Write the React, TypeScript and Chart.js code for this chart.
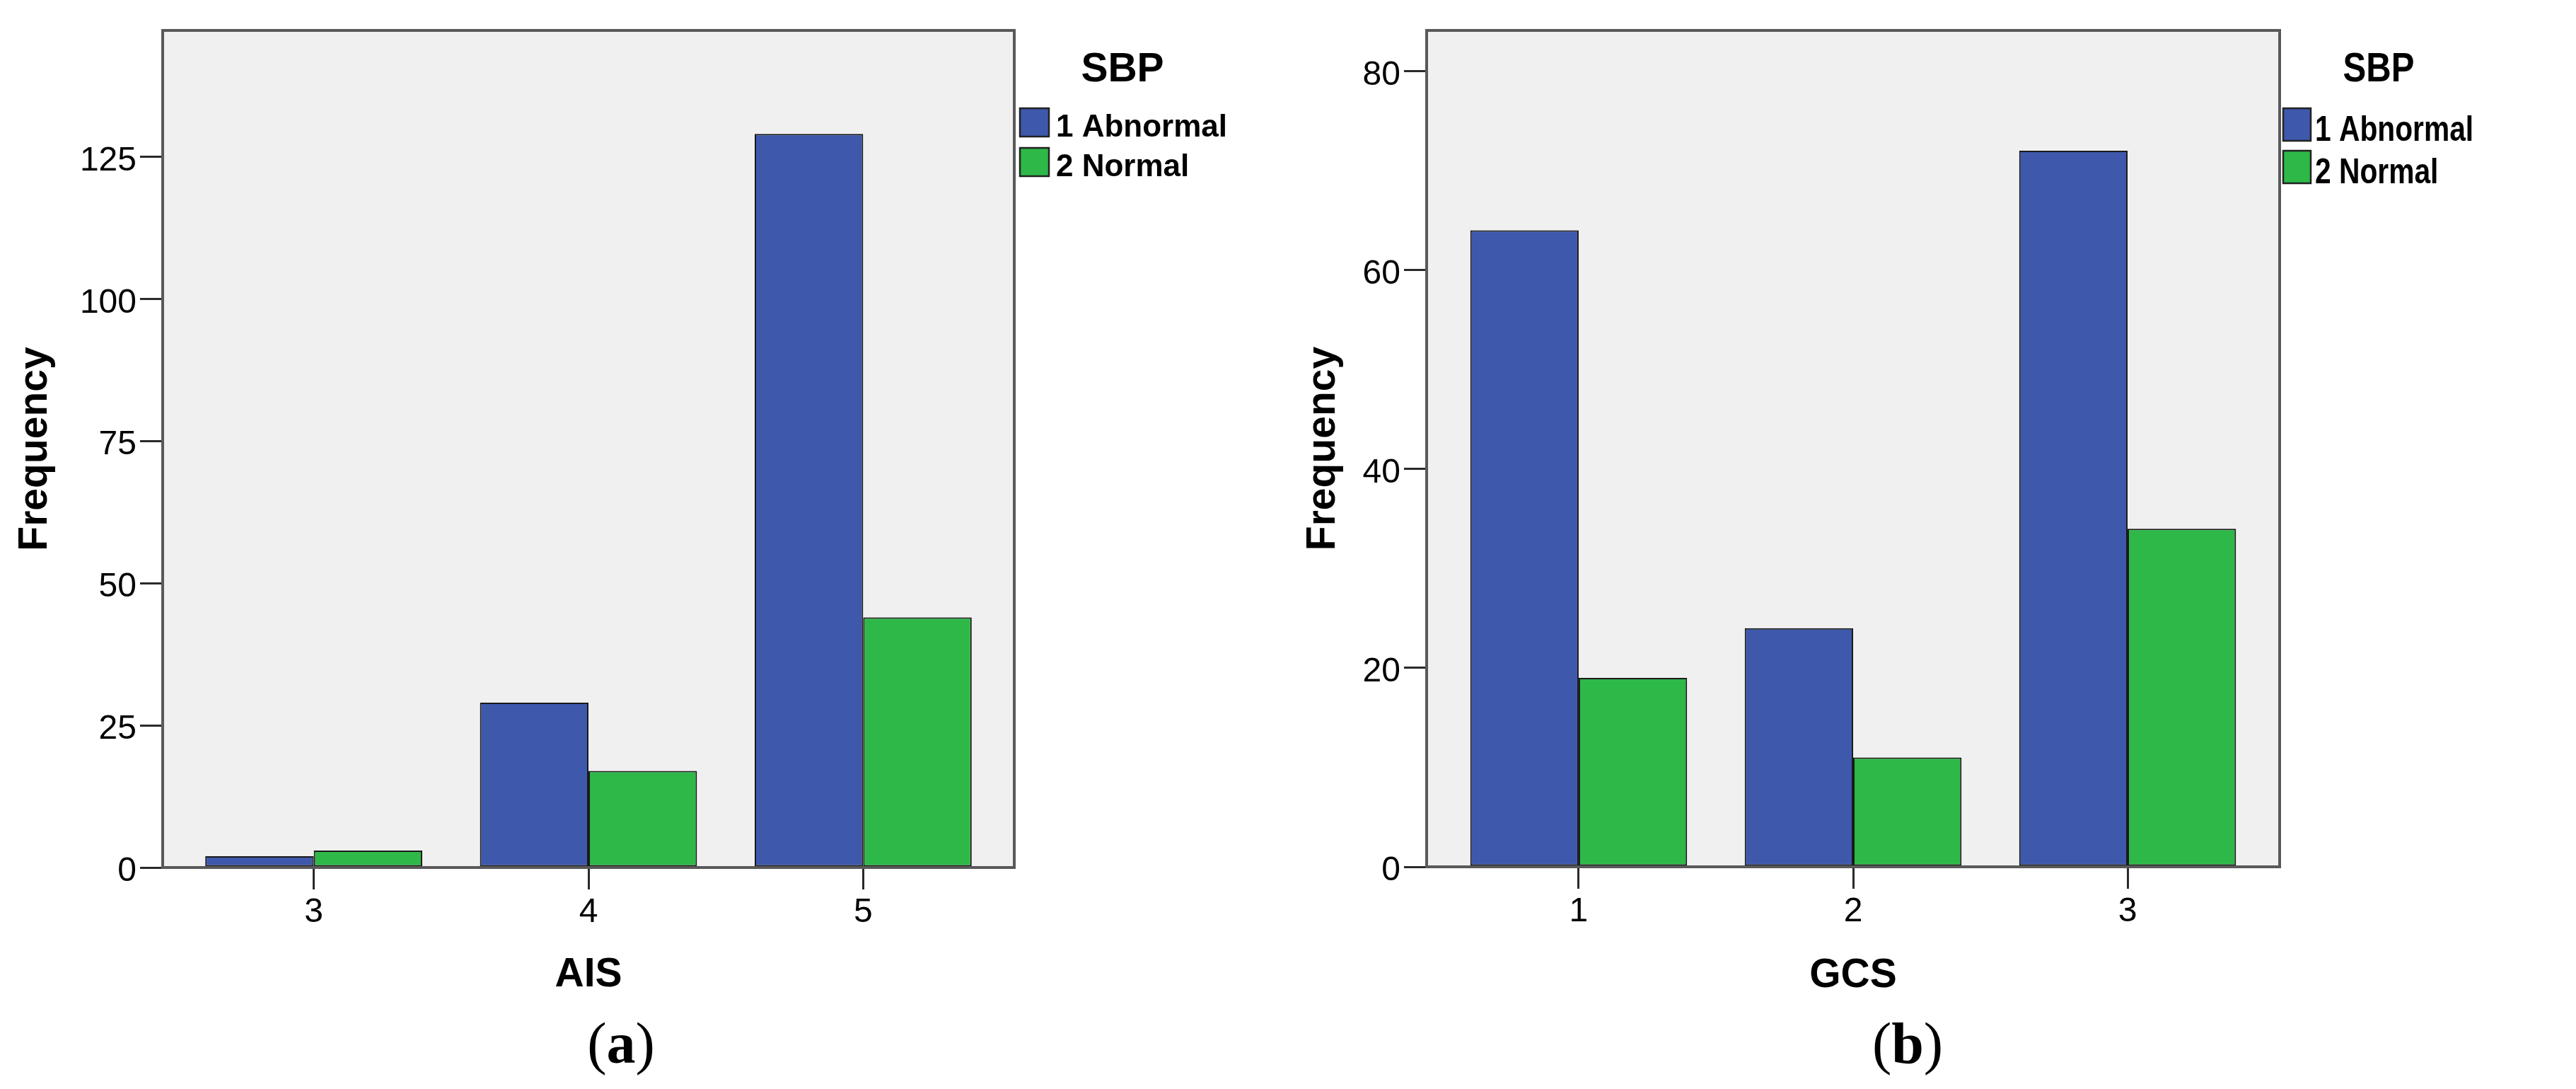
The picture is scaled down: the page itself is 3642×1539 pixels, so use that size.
import React, { useEffect, useRef } from 'react';
import { Chart, registerables } from 'chart.js';

Chart.register(...registerables);

// ---------- data ----------
const legendTitle = 'SBP';
const seriesLabels = ['1 Abnormal', '2 Normal'];
const yTitle = 'Frequency';

const aisTitle = 'AIS';
const aisCategories = [3, 4, 5];
const aisAbnormal = [2, 29, 129];
const aisNormal = [3, 17, 44];
const aisYTicks = [0, 25, 50, 75, 100, 125];

const gcsTitle = 'GCS';
const gcsCategories = [1, 2, 3];
const gcsAbnormal = [64, 24, 72];
const gcsNormal = [19, 11, 34];
const gcsYTicks = [0, 20, 40, 60, 80];

const captions = ['a', 'b'];

// ---------- style ----------
const BLUE = '#3e58ac';
const GREEN = '#2eb848';
const FONT = '"Liberation Sans", Arial, sans-serif';
const SERIF = '"Liberation Serif", "Times New Roman", serif';

const plotFramePlugin = {
  id: 'plotFrame',
  beforeDraw(chart: any) {
    const { ctx, chartArea: a } = chart;
    ctx.save();
    ctx.fillStyle = '#f0f0f0';
    ctx.fillRect(a.left, a.top, a.right - a.left, a.bottom - a.top);
    ctx.restore();
  },
  afterDatasetsDraw(chart: any) {
    const { ctx, chartArea: a } = chart;
    ctx.save();
    ctx.strokeStyle = '#595959';
    ctx.lineWidth = 4;
    ctx.strokeRect(a.left, a.top, a.right - a.left, a.bottom - a.top);
    ctx.restore();
  },
};

const sbpLegendPlugin = {
  id: 'sbpLegend',
  afterDraw(chart: any, _args: any, o: any) {
    const { ctx, chartArea } = chart;
    const x0 = chartArea.right;
    ctx.save();
    ctx.fillStyle = '#000';
    ctx.textBaseline = 'alphabetic';
    ctx.textAlign = 'center';
    ctx.font = `bold ${o.titleSize}px ${FONT}`;
    ctx.save();
    ctx.translate(x0 + o.titleDx, o.titleBaseline);
    ctx.scale(o.titleScaleX, 1);
    ctx.fillText(o.title, 0, 0);
    ctx.restore();
    chart.data.datasets.forEach((ds: any, i: number) => {
      const top = o.boxTop + i * o.rowStep;
      ctx.fillStyle = ds.backgroundColor;
      ctx.fillRect(x0 + o.boxDx, top, o.boxW, o.boxH);
      ctx.strokeStyle = '#222';
      ctx.lineWidth = 2.5;
      ctx.strokeRect(x0 + o.boxDx, top, o.boxW, o.boxH);
      ctx.fillStyle = '#000';
      ctx.textAlign = 'left';
      ctx.font = `bold ${o.labelSize}px ${FONT}`;
      ctx.save();
      ctx.translate(x0 + o.textDx, top + o.boxH);
      ctx.scale(o.labelScaleX, 1);
      ctx.fillText(ds.label, 0, 0);
      ctx.restore();
    });
    ctx.restore();
  },
};

interface PanelProps {
  left: number;
  width: number;
  height: number;
  categories: number[];
  abnormal: number[];
  normal: number[];
  yTicks: number[];
  yMax: number;
  xMin: number;
  xMax: number;
  xTitle: string;
  yAxisWidth: number;
  padRight: number;
  padTop: number;
  xAxisHeight: number;
  yTitlePad: number;
  xTitlePad: number;
  legend: any;
}

function Panel(p: PanelProps) {
  const ref = useRef<HTMLCanvasElement | null>(null);
  useEffect(() => {
    if (!ref.current) return;
    const tickFont = { family: FONT, size: 48 };
    const titleFont = { family: FONT, size: 57, weight: 'bold' as const };
    const gridCfg = (len: number) => ({
      display: true,
      offset: false,
      drawOnChartArea: false,
      drawTicks: true,
      tickLength: len,
      color: '#2a2a2a',
      lineWidth: 3,
    });
    const chart = new Chart(ref.current, {
      type: 'bar',
      data: {
        datasets: [
          {
            label: seriesLabels[0],
            data: p.categories.map((c, i) => ({ x: c, y: p.abnormal[i] })),
            backgroundColor: BLUE,
            borderColor: '#1a1a1a',
            borderWidth: 2,
            borderSkipped: false,
            categoryPercentage: 0.79,
            barPercentage: 1,
          },
          {
            label: seriesLabels[1],
            data: p.categories.map((c, i) => ({ x: c, y: p.normal[i] })),
            backgroundColor: GREEN,
            borderColor: '#1a1a1a',
            borderWidth: 2,
            borderSkipped: false,
            categoryPercentage: 0.79,
            barPercentage: 1,
          },
        ],
      } as any,
      options: {
        animation: false,
        responsive: true,
        maintainAspectRatio: false,
        layout: { padding: { top: p.padTop, right: p.padRight, left: 0, bottom: 0 } },
        plugins: {
          legend: { display: false },
          tooltip: { enabled: false },
          sbpLegend: p.legend,
        } as any,
        scales: {
          x: {
            type: 'linear',
            min: p.xMin,
            max: p.xMax,
            offset: false,
            afterBuildTicks: (s: any) => {
              s.ticks = p.categories.map((v) => ({ value: v }));
            },
            afterFit: (s: any) => {
              s.height = p.xAxisHeight;
            },
            grid: gridCfg(31),
            border: { display: false },
            ticks: {
              font: tickFont,
              color: '#000',
              padding: 4,
              maxRotation: 0,
              autoSkip: false,
              callback: (v: any) => String(v),
            },
            title: {
              display: true,
              text: p.xTitle,
              font: titleFont,
              color: '#000',
              padding: { top: 0, bottom: p.xTitlePad },
            },
          },
          y: {
            type: 'linear',
            min: 0,
            max: p.yMax,
            afterBuildTicks: (s: any) => {
              s.ticks = p.yTicks.map((v) => ({ value: v }));
            },
            afterFit: (s: any) => {
              s.width = p.yAxisWidth;
            },
            grid: gridCfg(32),
            border: { display: false },
            ticks: {
              font: tickFont,
              color: '#000',
              padding: 5,
              labelOffset: 6,
              callback: (v: any) => String(v),
            },
            title: {
              display: true,
              text: yTitle,
              font: titleFont,
              color: '#000',
              padding: { top: p.yTitlePad, bottom: 0 },
            },
          },
        } as any,
      },
      plugins: [plotFramePlugin, sbpLegendPlugin],
    });
    return () => chart.destroy();
  }, []);
  return (
    <div style={{ position: 'absolute', left: p.left, top: 0, width: p.width, height: p.height }}>
      <canvas ref={ref} />
    </div>
  );
}

function Caption({ x, letter }: { x: number; letter: string }) {
  return (
    <div
      style={{
        position: 'absolute',
        left: x,
        top: 1434,
        transform: 'translateX(-50%)',
        fontFamily: SERIF,
        fontSize: 82,
        lineHeight: 1,
        color: '#000',
        whiteSpace: 'nowrap',
      }}
    >
      (<b>{letter}</b>)
    </div>
  );
}

export default function App() {
  return (
    <div
      style={{
        position: 'absolute',
        left: 0,
        top: 0,
        width: 3642,
        height: 1539,
        background: '#fff',
        overflow: 'hidden',
      }}
    >
      <Panel
        left={0}
        width={1800}
        height={1440}
        categories={aisCategories}
        abnormal={aisAbnormal}
        normal={aisNormal}
        yTicks={aisYTicks}
        yMax={147.2}
        xMin={2.45}
        xMax={5.55}
        xTitle={aisTitle}
        yAxisWidth={230}
        padRight={366}
        padTop={43}
        xAxisHeight={214}
        yTitlePad={16}
        xTitlePad={28}
        legend={{
          title: legendTitle,
          titleSize: 57,
          titleDx: 153,
          titleBaseline: 115,
          titleScaleX: 1,
          boxDx: 8,
          boxW: 41,
          boxH: 40,
          boxTop: 153,
          rowStep: 56,
          textDx: 59,
          labelSize: 44,
          labelScaleX: 1,
        }}
      />
      <Panel
        left={1800}
        width={1842}
        height={1440}
        categories={gcsCategories}
        abnormal={gcsAbnormal}
        normal={gcsNormal}
        yTicks={gcsYTicks}
        yMax={84.1}
        xMin={0.446}
        xMax={3.554}
        xTitle={gcsTitle}
        yAxisWidth={217}
        padRight={419}
        padTop={43}
        xAxisHeight={215}
        yTitlePad={37}
        xTitlePad={27}
        legend={{
          title: legendTitle,
          titleSize: 57,
          titleDx: 140,
          titleBaseline: 115,
          titleScaleX: 0.86,
          boxDx: 5,
          boxW: 39,
          boxH: 46,
          boxTop: 153,
          rowStep: 60,
          textDx: 50,
          labelSize: 50,
          labelScaleX: 0.815,
        }}
      />
      <Caption x={878} letter={captions[0]} />
      <Caption x={2697} letter={captions[1]} />
    </div>
  );
}
